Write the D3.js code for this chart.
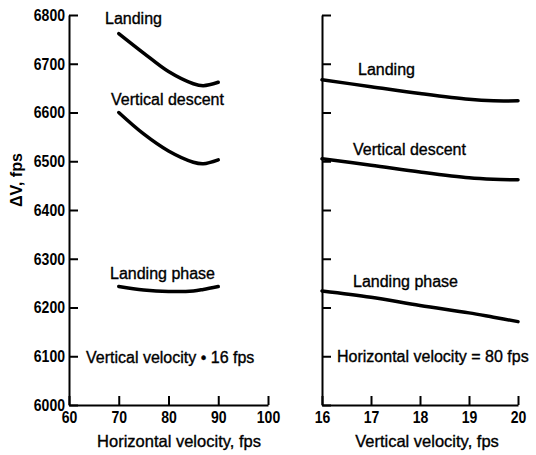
<!DOCTYPE html>
<html>
<head>
<meta charset="utf-8">
<script src="https://cdn.jsdelivr.net/npm/d3@7"></script>
<style>
  body { margin: 0; background: #fff; }
  svg text { font-family: "Liberation Sans", Arial, sans-serif; fill: #000; stroke: #000; stroke-width: 0.35px; }
  .tk text { font-weight: bold; font-size: 16.5px; stroke-width: 0; }
</style>
</head>
<body>
<div id="chart"></div>
<script>
// left panel: vertical velocity fixed at 16 fps
var horizVel = [70, 75, 80, 85, 87, 90];
var leftLanding = [6762, 6722, 6684, 6659, 6655, 6662];
var leftDescent = [6600, 6556, 6521, 6498, 6495, 6503];
var leftPhase = [6243, 6236, 6233, 6234, 6237, 6243];

// right panel: horizontal velocity fixed at 80 fps
var vertVel = [16, 17, 18, 19, 19.5, 20];
var rightLanding = [6667, 6653, 6639, 6627, 6624, 6624];
var rightDescent = [6505, 6492, 6478, 6466, 6463, 6462];
var rightPhase = [6234, 6221, 6204, 6189, 6180, 6171];

var dvTicks = [6000, 6100, 6200, 6300, 6400, 6500, 6600, 6700, 6800];
var horizTicks = [60, 70, 80, 90, 100];
var vertTicks = [16, 17, 18, 19, 20];

var width = 536, height = 455;

var svg = d3.select("#chart").append("svg")
    .attr("width", width)
    .attr("height", height);

var y = d3.scaleLinear().domain([6000, 6800]).range([405, 15]);
var xL = d3.scaleLinear().domain([60, 100]).range([69, 268]);
var xR = d3.scaleLinear().domain([16, 20]).range([322, 518]);

// condensed look for the tick numbers
function styleAxis(g) {
    g.selectAll("path, line").attr("stroke", "#000").attr("stroke-width", 2);
    g.selectAll("text")
        .attr("textLength", function() { return this.textContent.length * 7.8; })
        .attr("lengthAdjust", "spacingAndGlyphs");
}

// left axes
svg.append("g").attr("class", "tk")
    .attr("transform", "translate(" + xL.range()[0] + ",0)")
    .call(d3.axisLeft(y).tickValues(dvTicks).tickFormat(d3.format("d"))
        .tickSize(-9).tickSizeOuter(0).tickPadding(4))
    .call(styleAxis);

svg.append("g").attr("class", "tk")
    .attr("transform", "translate(0," + y(6000) + ")")
    .call(d3.axisBottom(xL).tickValues(horizTicks).tickFormat(d3.format("d"))
        .tickSize(-9).tickSizeOuter(0).tickPadding(6))
    .call(styleAxis);

// right axes (no y labels)
svg.append("g").attr("class", "tk")
    .attr("transform", "translate(" + xR.range()[0] + ",0)")
    .call(d3.axisLeft(y).tickValues(dvTicks).tickSize(-9).tickSizeOuter(0).tickFormat(""))
    .call(styleAxis);

svg.append("g").attr("class", "tk")
    .attr("transform", "translate(0," + y(6000) + ")")
    .call(d3.axisBottom(xR).tickValues(vertTicks).tickFormat(d3.format("d"))
        .tickSize(-9).tickSizeOuter(0).tickPadding(6))
    .call(styleAxis);

// curves
function drawCurve(xs, ys, xScale) {
    var line = d3.line()
        .x(function(d, i) { return xScale(xs[i]); })
        .y(function(d) { return y(d); })
        .curve(d3.curveCatmullRom);
    svg.append("path")
        .datum(ys)
        .attr("d", line)
        .attr("fill", "none")
        .attr("stroke", "#000")
        .attr("stroke-width", 3.5)
        .attr("stroke-linecap", "round");
}

drawCurve(horizVel, leftLanding, xL);
drawCurve(horizVel, leftDescent, xL);
drawCurve(horizVel, leftPhase, xL);
drawCurve(vertVel, rightLanding, xR);
drawCurve(vertVel, rightDescent, xR);
drawCurve(vertVel, rightPhase, xR);

// labels
function label(txt, x, yy, size) {
    svg.append("text")
        .attr("x", x).attr("y", yy)
        .style("font-size", (size || 16) + "px")
        .text(txt);
}

label("Landing", 105, 24);
label("Vertical descent", 111, 105);
label("Landing phase", 110, 279);
label("Vertical velocity \u2022 16 fps", 86, 363);

label("Landing", 358, 75);
label("Vertical descent", 353, 155);
label("Landing phase", 353, 287);
label("Horizontal velocity = 80 fps", 337, 362);

// axis titles
svg.append("text")
    .attr("x", 179).attr("y", 447)
    .attr("text-anchor", "middle")
    .style("font-size", "16.5px")
    .text("Horizontal velocity, fps");

svg.append("text")
    .attr("x", 427).attr("y", 447)
    .attr("text-anchor", "middle")
    .style("font-size", "16.5px")
    .text("Vertical velocity, fps");

svg.append("text")
    .attr("transform", "translate(22,180) rotate(-90)")
    .attr("text-anchor", "middle")
    .style("font-size", "16px")
    .style("font-weight", "bold")
    .style("stroke-width", 0)
    .attr("textLength", 54)
    .attr("lengthAdjust", "spacingAndGlyphs")
    .text("\u0394V, fps");
</script>
</body>
</html>
